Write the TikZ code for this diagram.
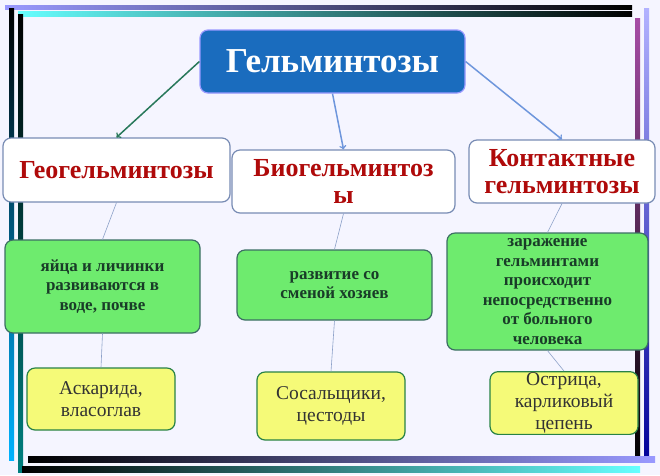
\documentclass[tikz,border=0pt]{standalone}
\usepackage{fontspec}
\setmainfont{Liberation Serif}
\definecolor{topblue}{RGB}{26,108,190}
\definecolor{catbd}{RGB}{120,140,180}
\definecolor{catred}{RGB}{175,10,10}
\definecolor{grnbd}{RGB}{60,110,100}
\definecolor{grnfill}{RGB}{110,235,110}
\definecolor{grntext}{RGB}{25,60,40}
\definecolor{yelbd}{RGB}{40,130,70}
\definecolor{yelfill}{RGB}{245,250,120}
\definecolor{arrgreen}{RGB}{40,120,90}
\definecolor{arrblue}{RGB}{110,150,220}
\definecolor{thinc}{RGB}{140,160,200}
\begin{document}
\begin{tikzpicture}[x=1pt,y=-1pt,
 box/.style={draw=#1,rounded corners=8pt,line width=1.2pt,align=center,inner sep=1pt},
 top/.style={box=blue!40!white,fill=topblue,text=white,font=\bfseries\fontsize{35}{38}\selectfont},
 cat/.style={box=catbd,fill=white,text=catred,font=\bfseries\fontsize{26}{27}\selectfont},
 grn/.style={box=grnbd,fill=grnfill,text=grntext,font=\bfseries\fontsize{17}{19.5}\selectfont},
 yel/.style={box=yelbd,fill=yelfill,text=black!80,font=\fontsize{19.5}{22}\selectfont},
 arr/.style={->,line width=1.5pt},
 thin/.style={draw=thinc,line width=0.6pt}]
\useasboundingbox (0,0) rectangle (660,475);
\fill[white!96!blue] (0,0) rectangle (660,475);
% frame
\shade[left color=blue!40!white,right color=black] (5,5) rectangle (632,9);
\shade[left color=cyan!60!white,right color=black] (18,11) rectangle (632,16);
\shade[top color=black,bottom color=cyan!70!blue] (9,8) rectangle (14,460);
\shade[top color=black,bottom color=teal] (18,14) rectangle (23,472);
\shade[top color=violet!70!white,bottom color=black] (635,18) rectangle (640,460);
\shade[top color=blue!30!white,bottom color=blue!60!black] (644,8) rectangle (649,462);
\shade[left color=black,right color=blue!40!white] (28,456) rectangle (655,462);
\shade[left color=black,right color=cyan!60!white] (22,466) rectangle (640,472);
% nodes
\node[top,minimum width=265,minimum height=63] (t) at (332.5,61.5) {Гельминтозы};
\node[cat,minimum width=227,minimum height=64] (c1) at (116.5,170) {Геогельминтозы};
\node[cat,minimum width=223,minimum height=63,text width=215] (c2) at (343.5,181.5) {Биогельминтоз\\ы};
\node[cat,minimum width=186,minimum height=63] (c3) at (562,171.5) {Контактные\\гельминтозы};
\node[grn,minimum width=195,minimum height=93] (g1) at (102.5,286.5) {яйца и личинки\\развиваются в\\воде, почве};
\node[grn,minimum width=195,minimum height=70] (g2) at (334.5,285) {развитие со\\сменой хозяев};
\node[grn,minimum width=201,minimum height=117] (g3) at (547.5,291.5) {заражение\\гельминтами\\происходит\\непосредственно\\от больного\\человека};
\node[yel,minimum width=148,minimum height=62] (y1) at (101,399) {Аскарида,\\власоглав};
\node[yel,minimum width=148,minimum height=68] (y2) at (331,406) {Сосальщики,\\цестоды};
\node[yel,minimum width=148,minimum height=62] (y3) at (564,403) {Острица,\\карликовый\\цепень};
% connectors
\draw[arr,draw=arrgreen] (t.west) -- (c1.north);
\draw[arr,draw=arrblue] (t.south) -- (c2.north);
\draw[arr,draw=arrblue] (t.east) -- (c3.north);
\draw[thin] (c1.south) -- (g1.north);
\draw[thin] (g1.south) -- (y1.north);
\draw[thin] (c2.south) -- (g2.north);
\draw[thin] (g2.south) -- (y2.north);
\draw[thin] (c3.south) -- (g3.north);
\draw[thin] (g3.south) -- (y3.north);
\end{tikzpicture}
\end{document}
